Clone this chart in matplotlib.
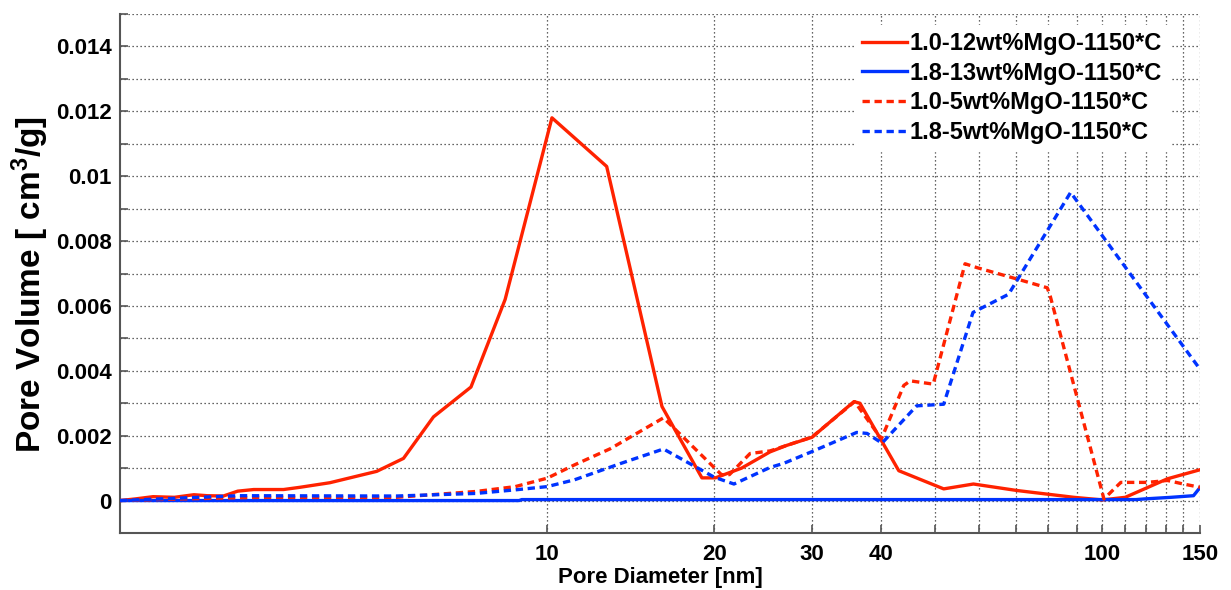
import matplotlib
matplotlib.use("Agg")
import matplotlib.pyplot as plt
from matplotlib.ticker import FixedLocator, NullFormatter

# Pore size distributions (pore diameter in nm, pore volume in cm^3/g)
d_mgo12 = [1.7, 1.81, 1.95, 2.13, 2.31, 2.44, 2.61, 2.77, 2.96, 3.35, 3.59, 4.06,
           4.93, 5.51, 6.24, 7.29, 8.40, 10.2, 12.8, 16.1, 19.0, 20.1, 22.4, 25.2,
           27.0, 30.0, 35.7, 36.6, 43.0, 51.8, 58.6, 70.2, 88.9, 100, 110, 131, 150]
v_mgo12 = [0, 0.00005, 0.00012, 0.0001, 0.00018, 0.00015, 0.00014, 0.00029, 0.00034,
           0.00034, 0.00041, 0.00055, 0.0009, 0.0013, 0.00258, 0.0035, 0.0062, 0.0118,
           0.0103, 0.0029, 0.0007, 0.0007, 0.001, 0.0015, 0.0017, 0.00195, 0.00305,
           0.003, 0.00092, 0.00036, 0.00051, 0.00031, 0.0001, 0.00002, 0.0001,
           0.00067, 0.00095]

d_mgo13 = [1.7, 8.9, 9.0, 115, 119, 133, 146, 150]
v_mgo13 = [0, 0, 0.00003, 0.00003, 0.00005, 0.0001, 0.00015, 0.0004]

d_10_mgo5 = [1.7, 2.2, 3.0, 5.35, 7.44, 8.76, 10.0, 11.2, 13.0, 16.2, 20.6, 21.3,
             23.2, 25.2, 27.0, 30.0, 35.8, 40.0, 43.9, 45.1, 49.6, 56.6, 59.5, 71.2,
             79.6, 80.6, 100.7, 108, 120.6, 131, 140, 150]
v_10_mgo5 = [0, 0.00005, 0.0001, 0.0001, 0.00028, 0.00043, 0.00069, 0.0011, 0.0016,
             0.00255, 0.0008, 0.0008, 0.00145, 0.00153, 0.0017, 0.00196, 0.00305,
             0.0019, 0.00355, 0.00369, 0.00359, 0.0073, 0.00718, 0.0068, 0.00656,
             0.0063, 0.00005, 0.00056, 0.00056, 0.00062, 0.00051, 0.00041]

d_18_mgo5 = [1.7, 2.0, 2.77, 5.35, 7.44, 8.76, 10.0, 11.2, 13.6, 16.2, 20.0, 21.7,
             25.2, 26.7, 30.0, 36.1, 37.7, 40.1, 46.3, 51.8, 58.5, 67.8, 87.7, 150]
v_18_mgo5 = [0, 0.00005, 0.00015, 0.00014, 0.00022, 0.00033, 0.00043, 0.00064,
             0.00115, 0.00159, 0.00072, 0.00051, 0.00102, 0.00115, 0.00151, 0.0021,
             0.00207, 0.00177, 0.00292, 0.00297, 0.0058, 0.00636, 0.0095, 0.00405]

labels = ["1.0-12wt%MgO-1150*C", "1.8-13wt%MgO-1150*C",
          "1.0-5wt%MgO-1150*C", "1.8-5wt%MgO-1150*C"]

x_major = [10, 20, 30, 40, 100, 150]
x_minor = [50, 60, 70, 80, 90, 110, 120, 130, 140]
y_major = [0, 0.002, 0.004, 0.006, 0.008, 0.01, 0.012, 0.014]
y_major_labels = ["0", "0.002", "0.004", "0.006", "0.008", "0.01", "0.012", "0.014"]
y_minor = [-0.001, 0.001, 0.003, 0.005, 0.007, 0.009, 0.011, 0.013, 0.015]

RED = "#ff2200"
BLUE = "#0033ff"
font = ["Liberation Sans", "DejaVu Sans"]

plt.rcParams["mathtext.fontset"] = "custom"
plt.rcParams["mathtext.rm"] = "Liberation Sans:bold"
plt.rcParams["mathtext.bf"] = "Liberation Sans:bold"
plt.rcParams["mathtext.default"] = "rm"

fig = plt.figure(figsize=(12.31, 5.90), dpi=100)
ax = fig.add_axes([120 / 1231, 1 - 533 / 590, 1080 / 1231, 519 / 590])

lw = 2.4
dash = (0, (2.2, 1.4))
ax.plot(d_mgo12, v_mgo12, color=RED, lw=lw, label=labels[0], zorder=3)
ax.plot(d_mgo13, v_mgo13, color=BLUE, lw=lw, label=labels[1], zorder=3)
ax.plot(d_10_mgo5, v_10_mgo5, color=RED, lw=lw, ls=dash, label=labels[2], zorder=3)
ax.plot(d_18_mgo5, v_18_mgo5, color=BLUE, lw=lw, ls=dash, label=labels[3], zorder=3)

ax.set_xscale("log")
ax.set_xlim(1.7, 150)
ax.set_ylim(-0.001, 0.015)

ax.xaxis.set_major_locator(FixedLocator(x_major))
ax.xaxis.set_minor_locator(FixedLocator(x_minor))
ax.xaxis.set_minor_formatter(NullFormatter())
ax.set_xticklabels([str(v) for v in x_major])
ax.yaxis.set_major_locator(FixedLocator(y_major))
ax.yaxis.set_minor_locator(FixedLocator(y_minor))
ax.set_yticklabels(y_major_labels)

grid_style = dict(color="#333333", lw=0.9, ls=(0, (1, 2.2)))
ax.grid(True, which="both", axis="both", **grid_style)
ax.set_axisbelow(True)

for s in ("top", "right"):
    ax.spines[s].set_visible(False)
for s in ("left", "bottom"):
    ax.spines[s].set_color("#555555")
    ax.spines[s].set_linewidth(1.5)

ax.tick_params(which="both", direction="in", length=6, width=1.2, color="#555555")
ax.tick_params(axis="x", which="both", pad=8)
ax.tick_params(axis="y", which="both", pad=6)
for t in ax.get_xticklabels() + ax.get_yticklabels():
    t.set_family(font)
    t.set_fontweight("bold")
    t.set_fontsize(16)

ax.set_xlabel("Pore Diameter [nm]", family=font, fontweight="bold", fontsize=16)
ax.xaxis.set_label_coords(0.5, -0.066)
ax.set_ylabel(r"Pore Volume [ cm$^{3}$/g]", family=font, fontweight="bold",
              fontsize=24)
ax.yaxis.set_label_coords(-0.0635, 0.478)

leg = ax.legend(loc="upper left", bbox_to_anchor=((855 - 120) / 1080, 1 - 11 / 519),
                frameon=True, fancybox=False, edgecolor="white", facecolor="white",
                framealpha=1, handlelength=1.9, handletextpad=0.1, labelspacing=0.28,
                borderpad=0.3, borderaxespad=0,
                prop={"family": font, "weight": "bold", "size": 17})
leg.set_zorder(5)

fig.savefig("out.png", dpi=100)
